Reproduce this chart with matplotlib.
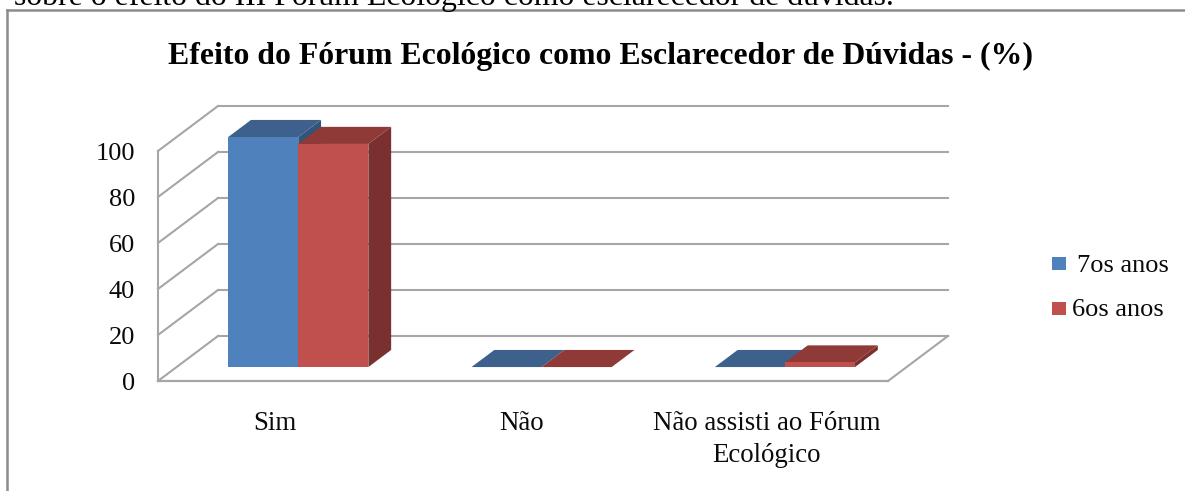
import matplotlib
matplotlib.use('Agg')
import matplotlib.pyplot as plt
from matplotlib.patches import Polygon, Rectangle
from matplotlib.transforms import IdentityTransform, ScaledTranslation

plt.rcParams['font.family'] = ['Liberation Serif', 'DejaVu Serif']

categories = ['Sim', 'Não', 'Não assisti ao Fórum\nEcológico']
series_names = ['7os anos', '6os anos']
valores_7 = [100, 0, 0]
valores_6 = [97, 0, 2]
yticks = [0, 20, 40, 60, 80, 100]

W, H = 1185, 491
DPI = 100

# depth offsets in pixels, the chart fakes 3d with a sheared floor
DEPTH_X, DEPTH_Y = 60, 45
BAR_NEAR = 0.31  # where the bar starts inside the floor depth
BAR_DEEP = 0.38  # how much of the depth the bar takes
BAR_W = 0.288

GRID = '#a6a6a6'
BLUE = ('#4f81bd', '#3d618c', '#335378')
RED = ('#c0504d', '#8f3a37', '#79302e')
TEXT = '#0a0a0a'

fig = plt.figure(figsize=(W / DPI, H / DPI), dpi=DPI)

# front plane of the chart
x0, x1, y0, y1 = 158, 888, 381, 151
ax = fig.add_axes([x0 / W, 1 - y0 / H, (x1 - x0) / W, (y0 - y1) / H])
ax.set_xlim(-0.5, 2.5)
ax.set_ylim(0, 100)
ax.axis('off')

back = ax.transData + ScaledTranslation(DEPTH_X / DPI, DEPTH_Y / DPI, fig.dpi_scale_trans)
pixels = IdentityTransform()


def to_px(x, y, frac):
    px, py = ax.transData.transform((x, y))
    return (px + DEPTH_X * frac, py + DEPTH_Y * frac)


def poly(points, color, z=3):
    # points are (x, value, depth fraction)
    pts = [to_px(*p) for p in points]
    ax.add_patch(Polygon(pts, closed=True, transform=pixels, facecolor=color,
                         edgecolor=color, lw=0, zorder=z, clip_on=False))


def slant(x, y, lw=1.5):
    a, b = to_px(x, y, 0), to_px(x, y, 1)
    ax.add_line(plt.Line2D([a[0], b[0]], [a[1], b[1]], transform=pixels, color=GRID,
                           lw=lw, zorder=1, clip_on=False))


# walls
for t in yticks:
    ax.plot([-0.5, 2.5], [t, t], transform=back, color=GRID, lw=1.5, zorder=1, clip_on=False)
    slant(-0.5, t)
slant(2.5, 0)
ax.plot([-0.5, -0.5], [0, 100], color=GRID, lw=1.5, zorder=1, clip_on=False)
ax.plot([-0.5, 2.5], [0, 0], color=GRID, lw=1.6, zorder=1, clip_on=False)


def bar3d(left, val, cols, z):
    right = left + BAR_W
    n, d = BAR_NEAR, BAR_NEAR + BAR_DEEP
    poly([(right, 0, n), (right, 0, d), (right, val, d), (right, val, n)], cols[2], z)
    poly([(left, val, n), (right, val, n), (right, val, d), (left, val, d)], cols[1], z)
    if val > 0:
        poly([(left, 0, n), (right, 0, n), (right, val, n), (left, val, n)], cols[0], z)


for i in range(len(categories)):
    bar3d(i - BAR_W, valores_7[i], BLUE, 3 + i * 0.1)
    bar3d(i, valores_6[i], RED, 3.05 + i * 0.1)

# tick labels
for t in yticks:
    ax.annotate(str(t), xy=(-0.5, t), xytext=(-23, -3), textcoords='offset pixels', ha='right',
                va='center', fontsize=19, color=TEXT, annotation_clip=False)
label_dx = [-5, -1, 0]
for i, c in enumerate(categories):
    fig.text((x0 + (i + 0.5) * (x1 - x0) / 3 + label_dx[i]) / W, 1 - 411 / H, c, ha='center', va='top',
             fontsize=19.4, color=TEXT, linespacing=1.36)

# title and the line of text cut off above the chart
fig.text(601 / W, 1 - 56 / H, 'Efeito do Fórum Ecológico como Esclarecedor de Dúvidas - (%)',
         ha='center', va='center', fontsize=22.9, fontweight='bold', color='black')
fig.text(14 / W, 1 - 5 / H, 'sobre o efeito do III Fórum Ecológico como esclarecedor de dúvidas.',
         ha='left', va='baseline', fontsize=22.9, color='black')

# legend
for name, col, ypos, xtext in zip(series_names, (BLUE[0], RED[0]), (263.5, 308.5), (1077, 1072)):
    fig.patches.append(Rectangle((1052 / W, 1 - (ypos + 6.5) / H), 14 / W, 13 / H, transform=fig.transFigure,
                                 facecolor=col, edgecolor='none'))
    fig.text(xtext / W, 1 - (ypos + 2) / H, name, ha='left', va='center', fontsize=19, color=TEXT)

# outer frame of the chart object, only top and left are in the crop
for xs, ys in (([6.5, 1185], [10, 10]), ([6.5, 6.5], [10, 491])):
    fig.add_artist(plt.Line2D([x / W for x in xs], [1 - y / H for y in ys], color='#8c8c8c', lw=1.8))

fig.savefig('out.png', dpi=DPI)
